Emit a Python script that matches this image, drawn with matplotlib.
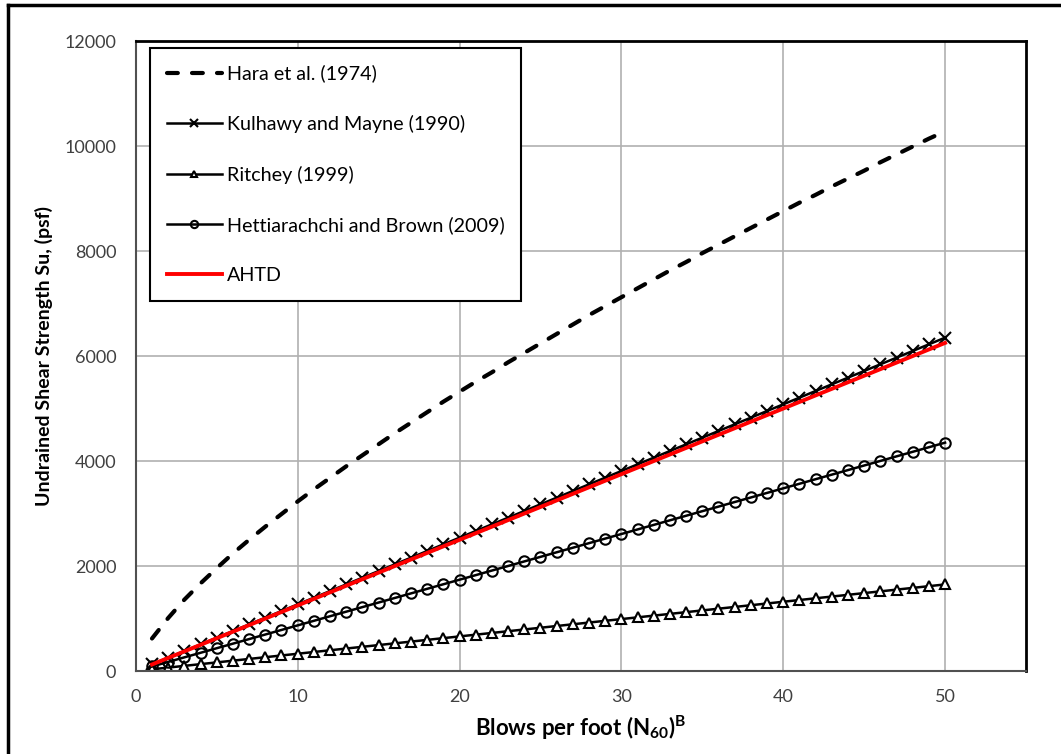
import matplotlib
matplotlib.use("Agg")
import matplotlib.pyplot as plt
from matplotlib.lines import Line2D

plt.rcParams['font.family'] = ['Lato', 'DejaVu Sans']
plt.rcParams['mathtext.fontset'] = 'custom'
plt.rcParams['mathtext.rm'] = 'Lato'
plt.rcParams['mathtext.bf'] = 'Lato:bold'

# blows per foot
n60 = list(range(1, 51))

# undrained shear strength (psf)
hara = [620, 1010, 1360, 1670, 1960, 2240, 2500, 2750, 2990, 3230,
        3460, 3680, 3900, 4110, 4320, 4530, 4730, 4930, 5130, 5320,
        5510, 5690, 5880, 6060, 6240, 6420, 6600, 6780, 6950, 7120,
        7290, 7460, 7630, 7790, 7960, 8120, 8280, 8440, 8600, 8760,
        8920, 9070, 9230, 9380, 9530, 9690, 9840, 9990, 10140, 10280]
kulhawy = [127, 254, 381, 508, 635, 762, 889, 1016, 1143, 1270,
           1397, 1524, 1651, 1778, 1905, 2032, 2159, 2286, 2413, 2540,
           2667, 2794, 2921, 3048, 3175, 3302, 3429, 3556, 3683, 3810,
           3937, 4064, 4191, 4318, 4445, 4572, 4699, 4826, 4953, 5080,
           5207, 5334, 5461, 5588, 5715, 5842, 5969, 6096, 6223, 6350]
ritchey = [33, 66, 99, 132, 165, 198, 231, 264, 297, 330,
           363, 396, 429, 462, 495, 528, 561, 594, 627, 660,
           693, 726, 759, 792, 825, 858, 891, 924, 957, 990,
           1023, 1056, 1089, 1122, 1155, 1188, 1221, 1254, 1287, 1320,
           1353, 1386, 1419, 1452, 1485, 1518, 1551, 1584, 1617, 1650]
hettiarachchi = [87, 174, 261, 348, 435, 522, 609, 696, 783, 870,
                 957, 1044, 1131, 1218, 1305, 1392, 1479, 1566, 1653, 1740,
                 1827, 1914, 2001, 2088, 2175, 2262, 2349, 2436, 2523, 2610,
                 2697, 2784, 2871, 2958, 3045, 3132, 3219, 3306, 3393, 3480,
                 3567, 3654, 3741, 3828, 3915, 4002, 4089, 4176, 4263, 4350]
ahtd = [125, 250, 375, 500, 625, 750, 875, 1000, 1125, 1250,
        1375, 1500, 1625, 1750, 1875, 2000, 2125, 2250, 2375, 2500,
        2625, 2750, 2875, 3000, 3125, 3250, 3375, 3500, 3625, 3750,
        3875, 4000, 4125, 4250, 4375, 4500, 4625, 4750, 4875, 5000,
        5125, 5250, 5375, 5500, 5625, 5750, 5875, 6000, 6125, 6250]

labels = ['Hara et al. (1974)', 'Kulhawy and Mayne (1990)', 'Ritchey (1999)',
          'Hettiarachchi and Brown (2009)', 'AHTD']
x_ticks = [0, 10, 20, 30, 40, 50]
y_ticks = [0, 2000, 4000, 6000, 8000, 10000, 12000]

fig = plt.figure(figsize=(10.61, 7.54), dpi=100)
ax = fig.add_axes([0.128, 0.110, 0.839, 0.8356])

ax.plot(n60, hara, color='black', lw=3, ls=(0, (2.6, 3.4)),
        dash_capstyle='round', label=labels[0])
ax.plot(n60, kulhawy, color='black', lw=1.8, marker='x', ms=8, mew=1.5,
        label=labels[1])
ax.plot(n60, ritchey, color='black', lw=1.8, marker='^', ms=7, mew=1.5,
        mfc='white', label=labels[2])
ax.plot(n60, hettiarachchi, color='black', lw=1.8, marker='o', ms=7.5, mew=1.5,
        mfc='none', label=labels[3])
ax.plot(n60, ahtd, color='red', lw=2.8, label=labels[4])

ax.set_xlim(0, 55)
ax.set_ylim(0, 12000)
ax.set_xticks(x_ticks)
ax.set_yticks(y_ticks)
ax.grid(True, color='#b0b0b0', lw=1.2)
ax.set_axisbelow(True)
ax.tick_params(length=0, labelsize=13, labelcolor='#404040')
ax.tick_params(axis='x', pad=13)
ax.tick_params(axis='y', pad=14)

for side in ['top', 'right']:
    ax.spines[side].set_color('black')
    ax.spines[side].set_linewidth(2)
for side in ['left', 'bottom']:
    ax.spines[side].set_color('#505050')
    ax.spines[side].set_linewidth(1.5)

ax.set_xlabel(r'Blows per foot (N$_{\mathbf{60}}$)$^{\mathbf{B}}$',
              fontsize=16, fontweight='bold', labelpad=6)
ax.set_ylabel('Undrained Shear Strength Su, (psf)', fontsize=14,
              fontweight='bold', labelpad=8)

leg = ax.legend(loc='upper left', bbox_to_anchor=(0.0157, 0.989),
                borderaxespad=0, fontsize=14.2, handlelength=2.8,
                handletextpad=0.25, labelspacing=1.65, borderpad=0.85,
                fancybox=False, framealpha=1, edgecolor='black',
                markerscale=0.7)
leg.get_frame().set_linewidth(1.5)

# outer border of the picture
fig.add_artist(Line2D([8 / 1061, 1.0], [1 - 5 / 754, 1 - 5 / 754],
                      transform=fig.transFigure, color='black', lw=2.5))
fig.add_artist(Line2D([8 / 1061, 8 / 1061], [0.0, 1 - 5 / 754],
                      transform=fig.transFigure, color='black', lw=2.5))

fig.savefig('out.png', dpi=100)
